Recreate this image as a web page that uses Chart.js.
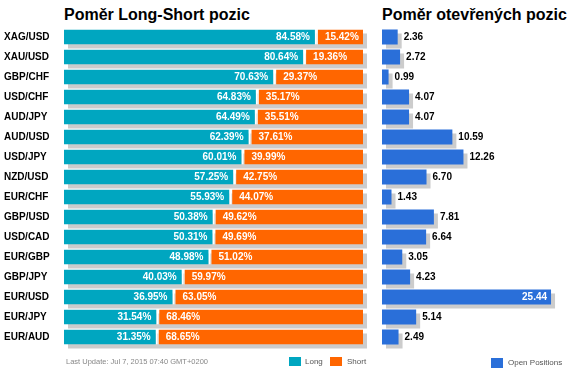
<!DOCTYPE html>
<html><head><meta charset="utf-8">
<script src="https://cdn.jsdelivr.net/npm/chart.js@4"></script>
<style>
html,body{margin:0;padding:0;background:#fff}
body{width:572px;height:379px;overflow:hidden;position:relative;font-family:Arial,"Liberation Sans",sans-serif}
#c1{position:absolute;left:0;top:0}
#c2{position:absolute;left:372px;top:0}
.title{position:absolute;top:7px;font-weight:bold;font-size:16px;line-height:16px;color:#000;white-space:nowrap}
.sw{position:absolute;width:12px;height:9px}
.lt{position:absolute;font-size:8px;line-height:10px;color:#555;white-space:nowrap}
.upd{position:absolute;left:66px;top:357px;font-size:7.5px;line-height:10px;color:#888;white-space:nowrap}
</style>
</head><body>
<div class="title" style="left:64px">Poměr Long-Short pozic</div>
<div class="title" style="left:382px">Poměr otevřených pozic</div>
<canvas id="c1" width="372" height="379"></canvas>
<canvas id="c2" width="200" height="379"></canvas>
<div class="upd">Last Update: Jul 7, 2015 07:40 GMT+0200</div>
<div class="sw" style="left:289px;top:357px;background:#00a6c0"></div>
<div class="lt" style="left:305px;top:357px">Long</div>
<div class="sw" style="left:330px;top:357px;background:#ff6600"></div>
<div class="lt" style="left:347px;top:357px">Short</div>
<div class="sw" style="left:491px;top:358px;height:10px;background:#2a6fd9"></div>
<div class="lt" style="left:508px;top:358px">Open Positions</div>
<script>
const categories = ['XAG/USD','XAU/USD','GBP/CHF','USD/CHF','AUD/JPY','AUD/USD','USD/JPY','NZD/USD','EUR/CHF','GBP/USD','USD/CAD','EUR/GBP','GBP/JPY','EUR/USD','EUR/JPY','EUR/AUD'];
const longPct = [84.58,80.64,70.63,64.83,64.49,62.39,60.01,57.25,55.93,50.38,50.31,48.98,40.03,36.95,31.54,31.35];
const shortPct = [15.42,19.36,29.37,35.17,35.51,37.61,39.99,42.75,44.07,49.62,49.69,51.02,59.97,63.05,68.46,68.65];
const openPositions = [2.36,2.72,0.99,4.07,4.07,10.59,12.26,6.70,1.43,7.81,6.64,3.05,4.23,25.44,5.14,2.49];

const LONG_COLOR = '#00a6c0', SHORT_COLOR = '#ff6600', OPEN_COLOR = '#2a6fd9', SHADOW = '#cccccc';
const FONT = 'Arial, "Liberation Sans", sans-serif';

const shadowPlugin = {
  id: 'shadow',
  beforeDatasetsDraw(chart, args, opts) {
    const ctx = chart.ctx;
    const metas = chart.getSortedVisibleDatasetMetas();
    const n = chart.data.labels.length;
    ctx.save();
    ctx.fillStyle = opts.color || SHADOW;
    for (let i = 0; i < n; i++) {
      let x0 = Infinity, x1 = -Infinity, y0 = 0, h = 0;
      metas.forEach(m => {
        const p = m.data[i].getProps(['x','base','y','height'], true);
        x0 = Math.min(x0, p.base, p.x); x1 = Math.max(x1, p.base, p.x);
        y0 = p.y - p.height / 2; h = p.height;
      });
      ctx.fillRect(x0 + opts.dx, y0 + opts.dy, x1 - x0, h);
    }
    ctx.restore();
  }
};

const valueLabelPlugin = {
  id: 'valueLabels',
  afterDatasetsDraw(chart, args, opts) {
    const ctx = chart.ctx;
    ctx.save();
    ctx.font = 'bold 10px ' + FONT;
    ctx.textBaseline = 'middle';
    if (opts.mode === 'ls') {
      const mL = chart.getDatasetMeta(0), mS = chart.getDatasetMeta(1);
      mL.data.forEach((el, i) => {
        ctx.fillStyle = '#fff';
        ctx.textAlign = 'right';
        ctx.fillText(longPct[i].toFixed(2) + '%', el.x - 7, el.y + 0.5);
      });
      mS.data.forEach((el, i) => {
        ctx.fillStyle = '#fff';
        ctx.textAlign = 'left';
        ctx.fillText(shortPct[i].toFixed(2) + '%', el.base + 8, el.y + 0.5);
      });
    } else {
      const m = chart.getDatasetMeta(0);
      m.data.forEach((el, i) => {
        const t = openPositions[i].toFixed(2);
        const w = ctx.measureText(t).width;
        if (el.x + 6 + w > chart.chartArea.right) {
          ctx.fillStyle = '#fff'; ctx.textAlign = 'right';
          ctx.fillText(t, el.x - 4, el.y + 0.5);
        } else {
          ctx.fillStyle = '#000'; ctx.textAlign = 'left';
          ctx.fillText(t, el.x + 6, el.y + 0.5);
        }
      });
    }
    ctx.restore();
  }
};

Chart.defaults.font.family = FONT;

new Chart(document.getElementById('c1'), {
  type: 'bar',
  data: {
    labels: categories,
    datasets: [
      { label: 'Long', data: longPct, backgroundColor: LONG_COLOR, borderColor: '#fff',
        borderWidth: {left:0, top:0, bottom:0, right:2}, borderSkipped: false },
      { label: 'Short', data: shortPct, backgroundColor: SHORT_COLOR, borderColor: '#fff',
        borderWidth: {left:1, top:0, bottom:0, right:0}, borderSkipped: false }
    ]
  },
  options: {
    indexAxis: 'y',
    responsive: false,
    animation: false,
    datasets: { bar: { barPercentage: 0.75, categoryPercentage: 1 } },
    layout: { padding: { left: 4, top: 27, right: 9, bottom: 32 } },
    scales: {
      x: { stacked: true, min: 0, max: 100, display: false },
      y: { stacked: true, grid: { display: false }, border: { display: false },
           ticks: { font: { size: 10, weight: 'bold' }, color: '#000', crossAlign: 'far', padding: 0 },
           afterFit(s) { s.width = 60; } }
    },
    plugins: {
      legend: { display: false }, tooltip: { enabled: false }, title: { display: false },
      shadow: { dx: 4, dy: 4, color: SHADOW },
      valueLabels: { mode: 'ls' }
    }
  },
  plugins: [shadowPlugin, valueLabelPlugin]
});

new Chart(document.getElementById('c2'), {
  type: 'bar',
  data: {
    labels: categories,
    datasets: [
      { label: 'Open Positions', data: openPositions, backgroundColor: OPEN_COLOR }
    ]
  },
  options: {
    indexAxis: 'y',
    responsive: false,
    animation: false,
    datasets: { bar: { barPercentage: 0.75, categoryPercentage: 1 } },
    layout: { padding: { left: 10, top: 27, right: 10.6, bottom: 32 } },
    scales: {
      x: { min: 0, max: 27, display: false },
      y: { display: false }
    },
    plugins: {
      legend: { display: false }, tooltip: { enabled: false }, title: { display: false },
      shadow: { dx: 4, dy: 4, color: SHADOW },
      valueLabels: { mode: 'op' }
    }
  },
  plugins: [shadowPlugin, valueLabelPlugin]
});
</script>
</body></html>
